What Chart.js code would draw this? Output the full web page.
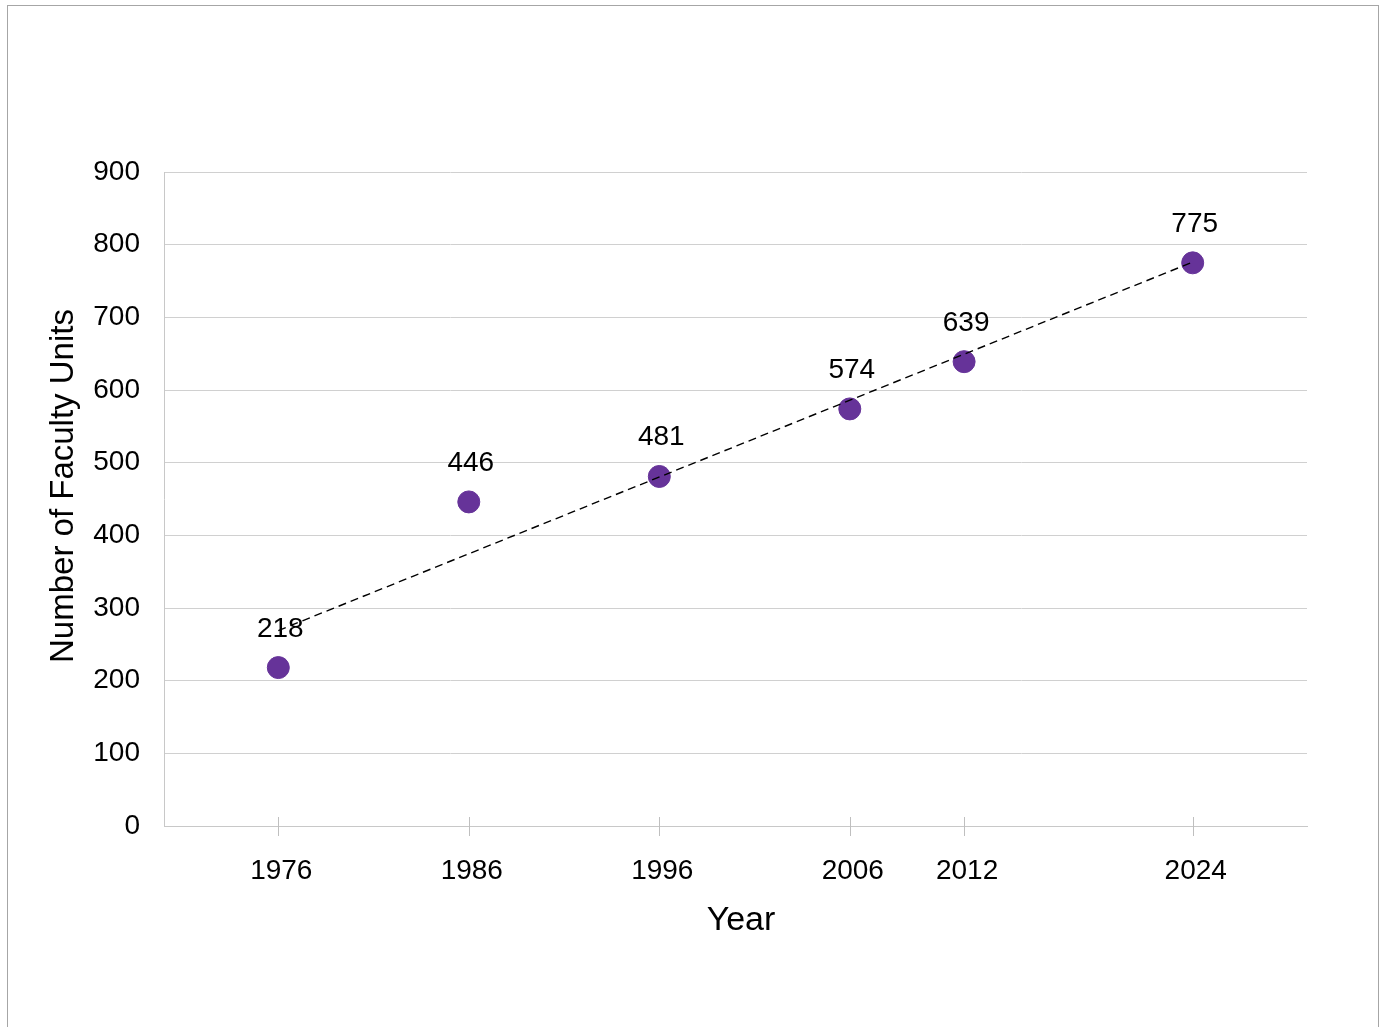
<!DOCTYPE html>
<html>
  <head>
    <title>Faculty Units</title>
    <script src="https://cdn.jsdelivr.net/npm/chart.js@4.4.1/dist/chart.umd.min.js"></script>
    <style>
        /* page frame */
        body { margin: 0; background: #fff; }
        .frame {
            position: absolute; left: 7px; top: 5px;
            width: 1370px; height: 1040px;
            border: 1px solid #a6a6a6;
        }
        #unitsChart { position: absolute; left: 0; top: 0; }
    </style>
  </head>
  <body>
    <div class="frame"></div>
    <canvas id="unitsChart" width="1381" height="1027"></canvas>
    <script>
      // Data
      var years = [1976, 1986, 1996, 2006, 2012, 2024];
      var units = [218, 446, 481, 574, 639, 775];
      // dashed trend line end points
      var trendYears = [1976, 2024];
      var trendUnits = [269, 776];

      var fontFamily = "'Liberation Sans', Arial, sans-serif";
      var purple = "#663399";

      // labels above each point
      var pointLabels = {
        id: "pointLabels",
        afterDatasetsDraw: function(chart) {
          var ctx = chart.ctx;
          var meta = chart.getDatasetMeta(1);
          ctx.save();
          ctx.font = "28px " + fontFamily;
          ctx.fillStyle = "#000";
          ctx.textAlign = "center";
          ctx.textBaseline = "alphabetic";
          meta.data.forEach(function(pt, i) {
            ctx.fillText(String(units[i]), pt.x + 2, pt.y - 31);
          });
          ctx.restore();
        }
      };

      // small cross marks on the x axis
      var crossTicks = {
        id: "crossTicks",
        beforeDatasetsDraw: function(chart) {
          var ctx = chart.ctx;
          var xs = chart.scales.x;
          var y0 = chart.chartArea.bottom;
          ctx.save();
          ctx.strokeStyle = "#bfbfbf";
          ctx.lineWidth = 1;
          years.forEach(function(yr) {
            var px = Math.round(xs.getPixelForValue(yr)) + 0.5;
            ctx.beginPath();
            ctx.moveTo(px, y0 - 9);
            ctx.lineTo(px, y0 + 10);
            ctx.stroke();
          });
          ctx.restore();
        }
      };

      // axis titles, placed where the original has them
      var axisTitles = {
        id: "axisTitles",
        afterDraw: function(chart) {
          var ctx = chart.ctx;
          ctx.save();
          ctx.fillStyle = "#000";
          ctx.textAlign = "center";
          ctx.textBaseline = "middle";
          ctx.font = "34px " + fontFamily;
          ctx.fillText("Year", 741, 921);
          ctx.translate(64, 486);
          ctx.rotate(-Math.PI / 2);
          ctx.font = "33px " + fontFamily;
          ctx.fillText("Number of Faculty Units", 0, 0);
          ctx.restore();
        }
      };

      var ctx = document.getElementById("unitsChart").getContext("2d");
      var chart = new Chart(ctx, {
        type: "scatter",
        data: {
          datasets: [
            {
              type: "line",
              data: trendYears.map(function(x, i) { return {x: x, y: trendUnits[i]}; }),
              borderColor: "#000",
              borderWidth: 1.4,
              borderDash: [8, 5],
              pointRadius: 0,
              fill: false,
              order: 0
            },
            {
              data: years.map(function(x, i) { return {x: x, y: units[i]}; }),
              backgroundColor: purple,
              borderColor: purple,
              pointRadius: 11,
              pointHoverRadius: 11,
              order: 1
            }
          ]
        },
        options: {
          responsive: false,
          animation: false,
          layout: { padding: { left: 0, top: 172, right: 74, bottom: 81 } },
          plugins: { legend: { display: false }, tooltip: { enabled: false } },
          scales: {
            x: {
              type: "linear",
              min: 1970,
              max: 2030,
              afterBuildTicks: function(scale) {
                scale.ticks = years.map(function(v) { return {value: v}; });
              },
              afterFit: function(scale) { scale.height = 120; },
              grid: { display: false, drawTicks: false },
              border: { display: true, color: "#c8c8c8", width: 1 },
              ticks: {
                autoSkip: false,
                maxRotation: 0,
                padding: 28,
                labelOffset: 3,
                color: "#000",
                font: { family: fontFamily, size: 28 },
                callback: function(v) { return String(v); }
              },
              title: { display: false }
            },
            y: {
              min: 0,
              max: 900,
              afterFit: function(scale) { scale.width = 164; },
              grid: { color: "#d0d0d0", drawTicks: false },
              border: { display: true, color: "#c8c8c8", width: 1 },
              ticks: {
                stepSize: 100,
                padding: 24,
                color: "#000",
                font: { family: fontFamily, size: 28 }
              },
              title: { display: false }
            }
          }
        },
        plugins: [pointLabels, crossTicks, axisTitles]
      });
    </script>
  </body>
</html>
